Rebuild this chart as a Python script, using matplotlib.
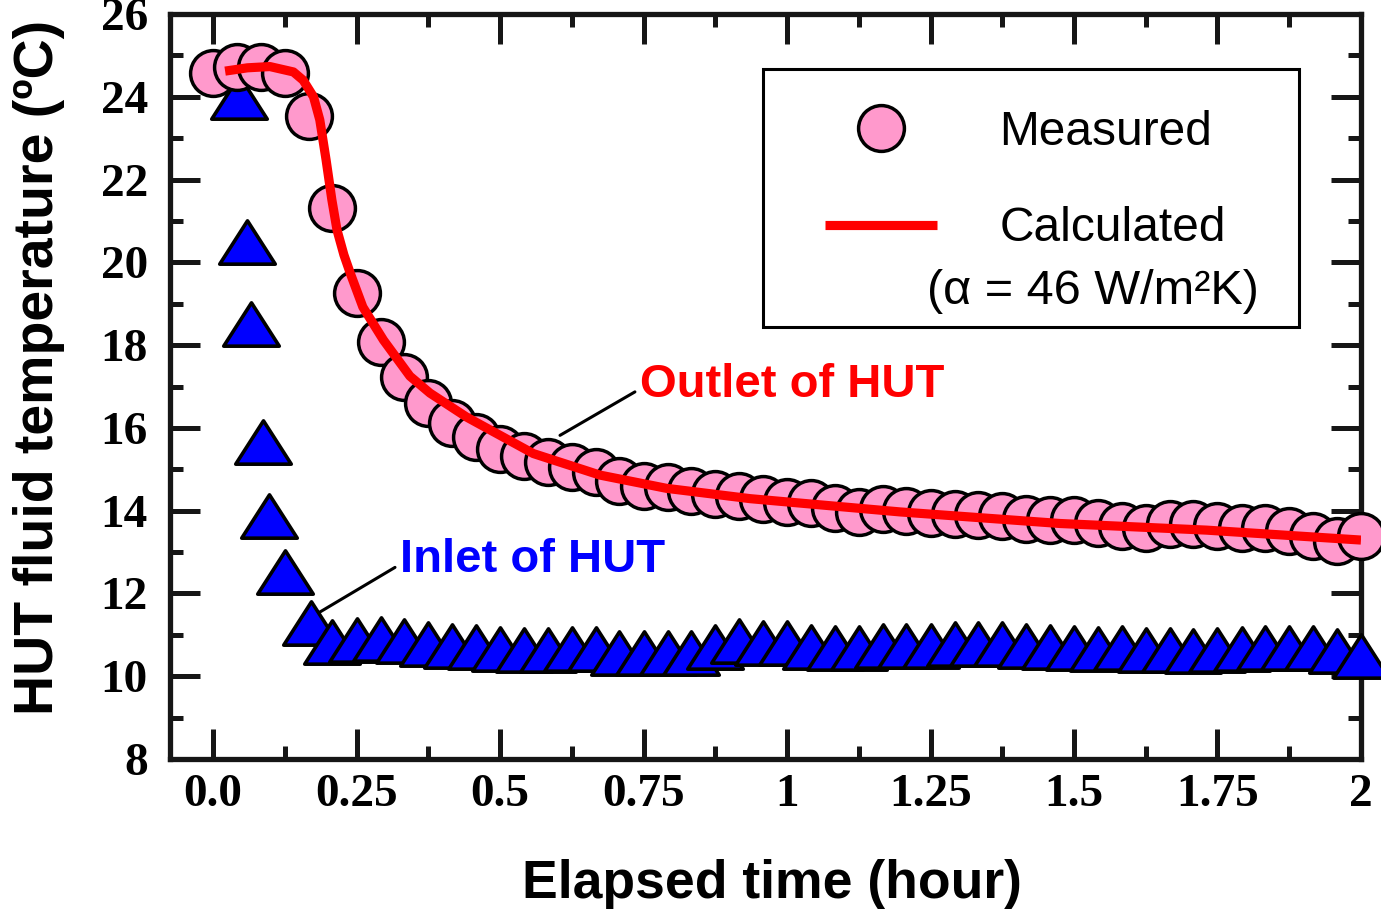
import matplotlib
matplotlib.use("Agg")
import matplotlib.pyplot as plt
from matplotlib.path import Path
from matplotlib.patches import Rectangle
from matplotlib.ticker import FixedLocator, MultipleLocator

# Measured outlet of HUT (circles), hours / degC
outlet_time = [0.0, 0.042, 0.083, 0.125, 0.167, 0.208, 0.25, 0.292, 0.333, 0.375,
               0.417, 0.458, 0.5, 0.542, 0.583, 0.625, 0.667, 0.708, 0.75, 0.792,
               0.833, 0.875, 0.917, 0.958, 1.0, 1.042, 1.083, 1.125, 1.167, 1.208,
               1.25, 1.292, 1.333, 1.375, 1.417, 1.458, 1.5, 1.542, 1.583, 1.625,
               1.667, 1.708, 1.75, 1.792, 1.833, 1.875, 1.917, 1.958, 2.0]
outlet_temp = [24.57, 24.72, 24.72, 24.58, 23.53, 21.32, 19.25, 18.08, 17.23, 16.59,
               16.13, 15.77, 15.50, 15.33, 15.18, 15.05, 14.93, 14.72, 14.60, 14.56,
               14.48, 14.40, 14.36, 14.28, 14.21, 14.18, 14.07, 13.97, 14.05, 13.99,
               13.95, 13.91, 13.89, 13.87, 13.79, 13.78, 13.78, 13.70, 13.62, 13.58,
               13.68, 13.68, 13.62, 13.58, 13.58, 13.50, 13.38, 13.26, 13.38]

# Measured inlet of HUT (triangles)
inlet_time = [0.045, 0.059, 0.066, 0.087, 0.098, 0.125, 0.17,
              0.208, 0.25, 0.292, 0.333, 0.375, 0.417, 0.458, 0.5, 0.542, 0.583,
              0.625, 0.667, 0.708, 0.75, 0.792, 0.833, 0.875, 0.917, 0.958, 1.0,
              1.042, 1.083, 1.125, 1.167, 1.208, 1.25, 1.292, 1.333, 1.375, 1.417,
              1.458, 1.5, 1.542, 1.583, 1.625, 1.667, 1.708, 1.75, 1.792, 1.833,
              1.875, 1.917, 1.958, 2.0]
inlet_temp = [24.0, 20.49, 18.50, 15.66, 13.87, 12.52, 11.29,
              10.82, 10.87, 10.90, 10.86, 10.77, 10.73, 10.70, 10.66, 10.63, 10.63,
              10.65, 10.65, 10.57, 10.57, 10.57, 10.57, 10.71, 10.84, 10.81, 10.80,
              10.71, 10.69, 10.69, 10.73, 10.73, 10.73, 10.77, 10.77, 10.77, 10.73,
              10.71, 10.69, 10.65, 10.68, 10.63, 10.63, 10.61, 10.63, 10.65, 10.68,
              10.68, 10.68, 10.61, 10.50]

# Calculated outlet (alpha = 46 W/m2K)
calc_time = [0.021, 0.06, 0.099, 0.14, 0.157, 0.175, 0.186, 0.197, 0.207, 0.216,
             0.228, 0.239, 0.261, 0.297, 0.343, 0.378, 0.442, 0.558, 0.674, 0.79,
             0.936, 1.197, 1.476, 1.731, 2.0]
calc_temp = [24.62, 24.70, 24.73, 24.60, 24.40, 24.00, 23.44, 22.47, 21.51, 20.78,
             20.18, 19.74, 18.92, 18.12, 17.25, 16.84, 16.26, 15.38, 14.86, 14.54,
             14.29, 13.97, 13.69, 13.53, 13.29]

x_ticks = [0, 0.25, 0.5, 0.75, 1, 1.25, 1.5, 1.75, 2]
x_ticklabels = ["0.0", "0.25", "0.5", "0.75", "1", "1.25", "1.5", "1.75", "2"]
y_ticks = [8, 10, 12, 14, 16, 18, 20, 22, 24, 26]

ink = "#161616"

fig = plt.figure(figsize=(13.81, 9.09), dpi=100)
ax = fig.add_axes([0.1231, 0.1650, 0.8624, 0.8196])

# slightly flattened triangle marker
tri = Path([(-1, -0.78), (1, -0.78), (0, 0.78), (0, 0)],
           [Path.MOVETO, Path.LINETO, Path.LINETO, Path.CLOSEPOLY])

ax.plot(inlet_time, inlet_temp, linestyle="none", marker=tri, ms=40,
        mfc="#0000ff", mec="black", mew=2.6, clip_on=False, zorder=3)
ax.plot(outlet_time, outlet_temp, linestyle="none", marker="o", ms=33,
        mfc="#ff99cc", mec="black", mew=2.5, clip_on=False, zorder=4,
        label="Measured")
ax.plot(calc_time, calc_temp, color="#ff0000", lw=6.6, zorder=5,
        solid_capstyle="butt", label="Calculated")

ax.set_xlim(-0.075, 2.0)
ax.set_ylim(8, 26)
ax.xaxis.set_major_locator(FixedLocator(x_ticks))
ax.set_xticklabels(x_ticklabels)
ax.xaxis.set_minor_locator(MultipleLocator(0.125))
ax.yaxis.set_major_locator(FixedLocator(y_ticks))
ax.yaxis.set_minor_locator(MultipleLocator(1))

for sp in ax.spines.values():
    sp.set_linewidth(3.8)
    sp.set_color(ink)
ax.tick_params(which="both", direction="in", top=True, right=True,
               width=3.6, color=ink)
ax.tick_params(which="major", length=21.6)
ax.tick_params(which="minor", length=9.5)
ax.tick_params(axis="x", pad=11, labelsize=34)
ax.tick_params(axis="y", pad=16, labelsize=34)
for lab in ax.get_xticklabels() + ax.get_yticklabels():
    lab.set_fontfamily("Liberation Serif")
    lab.set_fontweight("bold")

ax.set_xlabel("Elapsed time (hour)", fontsize=38.5, fontweight="bold",
              family="Liberation Sans")
ax.set_ylabel("HUT fluid temperature (ºC)", fontsize=40, fontweight="bold",
              family="Liberation Sans")
ax.xaxis.set_label_coords(0.505, -0.134)
ax.yaxis.set_label_coords(-0.088, 0.526)

# legend
leg = ax.legend(loc="upper left", bbox_to_anchor=(0.550, 0.871), frameon=False,
                handlelength=2.33, handletextpad=1.31, labelspacing=1.07,
                borderpad=0, borderaxespad=0, numpoints=1,
                prop={"family": "Liberation Sans", "size": 34.5})
ax.add_patch(Rectangle((0.498, 0.580), 0.45, 0.346, transform=ax.transAxes,
                       fill=False, lw=2.2, ec="black", zorder=6))
ax.text(0.636, 0.627, "(α = 46 W/m²K)", transform=ax.transAxes,
        fontsize=35, family="Liberation Sans", ha="left", va="center")

# labels for the two curves
ax.annotate("", xy=(0.6045, 15.82), xytext=(0.735, 16.87),
            arrowprops=dict(arrowstyle="-", lw=2.2, color="black",
                            shrinkA=0, shrinkB=0), zorder=6)
ax.text(0.744, 17.03, "Outlet of HUT", color="#ff0000", fontsize=34,
        fontweight="bold", family="Liberation Sans", ha="left", va="center")
ax.annotate("", xy=(0.186, 11.55), xytext=(0.317, 12.63),
            arrowprops=dict(arrowstyle="-", lw=2.2, color="black",
                            shrinkA=0, shrinkB=0), zorder=6)
ax.text(0.326, 12.80, "Inlet of HUT", color="#0000ff", fontsize=34,
        fontweight="bold", family="Liberation Sans", ha="left", va="center")

fig.savefig("out.png", dpi=100)
